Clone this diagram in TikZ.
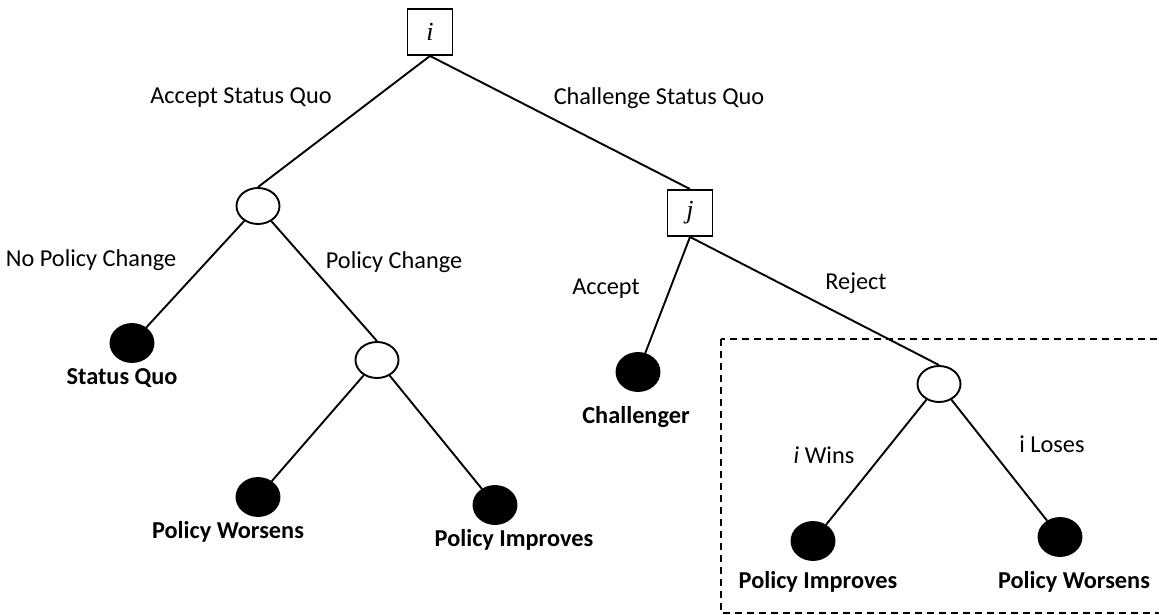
\documentclass[tikz,border=0pt]{standalone}
\usepackage{fontspec}
\setmainfont{Carlito}
\newfontfamily\boxfont{Liberation Serif}
\usetikzlibrary{shapes.geometric}
\begin{document}
\begin{tikzpicture}[x=1pt,y=-1pt,line width=1.9pt,
  decbox/.style={draw,rectangle,minimum width=45pt,minimum height=46pt,inner sep=0pt,font=\boxfont\itshape\fontsize{26}{30}\selectfont},
  chance/.style={draw,ellipse,minimum width=43pt,minimum height=36pt,inner sep=0pt,fill=white},
  term/.style={draw,ellipse,minimum width=43pt,minimum height=38pt,inner sep=0pt,fill=black},
  lbl/.style={inner sep=0pt,font=\fontsize{24.3}{28}\selectfont},
  blbl/.style={inner sep=0pt,font=\fontsize{24.3}{28}\selectfont\bfseries}]
\useasboundingbox (0,0) rectangle (1159,615);
\fill[white] (0,0) rectangle (1159,615);
% dashed region
\draw[dashed,dash pattern=on 7pt off 5pt] (721,339) rectangle (1175,613);
% nodes
\node[decbox] (i) at (430,32) {i};
\node[decbox] (j) at (690,213) {j};
\node[chance] (a) at (258,206) {};
\node[term] (sq) at (132,343) {};
\node[chance] (pc) at (377,360) {};
\node[term] (pw) at (258,497) {};
\node[term] (pi) at (495,505) {};
\node[term] (ch) at (638,372) {};
\node[chance] (r) at (939,384) {};
\node[term] (pi2) at (813,541) {};
\node[term] (pw2) at (1060,537) {};
% edges
\draw (i.south) -- (a.north);
\draw (i.south) -- (j.north);
\draw (a) -- (sq);
\draw (a) -- (pc.north);
\draw (pc) -- (pw);
\draw (pc) -- (pi);
\draw (j.south) -- (ch);
\draw (j.south) -- (r.north);
\draw (r) -- (pi2);
\draw (r) -- (pw2);
% edge labels
\node[lbl] (l1) at (241,98) {Accept Status Quo};
\node[lbl] (l2) at (659,98) {Challenge Status Quo};
\node[lbl] (l3) at (91,260) {No Policy Change};
\node[lbl] (l4) at (394,262) {Policy Change};
\node[lbl] (l5) at (606,289) {Accept};
\node[lbl] (l6) at (856,283) {Reject};
\node[lbl] (l7) at (824,455) {\textit{i} Wins};
\node[lbl] (l8) at (1052,444) {i Loses};
% outcome labels
\node[blbl] (o1) at (122,378) {Status Quo};
\node[blbl] (o2) at (228,532) {Policy Worsens};
\node[blbl] (o3) at (514,540) {Policy Improves};
\node[blbl] (o4) at (636,417) {Challenger};
\node[blbl] (o5) at (818,582) {Policy Improves};
\node[blbl] (o6) at (1074,582) {Policy Worsens};
\end{tikzpicture}
\end{document}
